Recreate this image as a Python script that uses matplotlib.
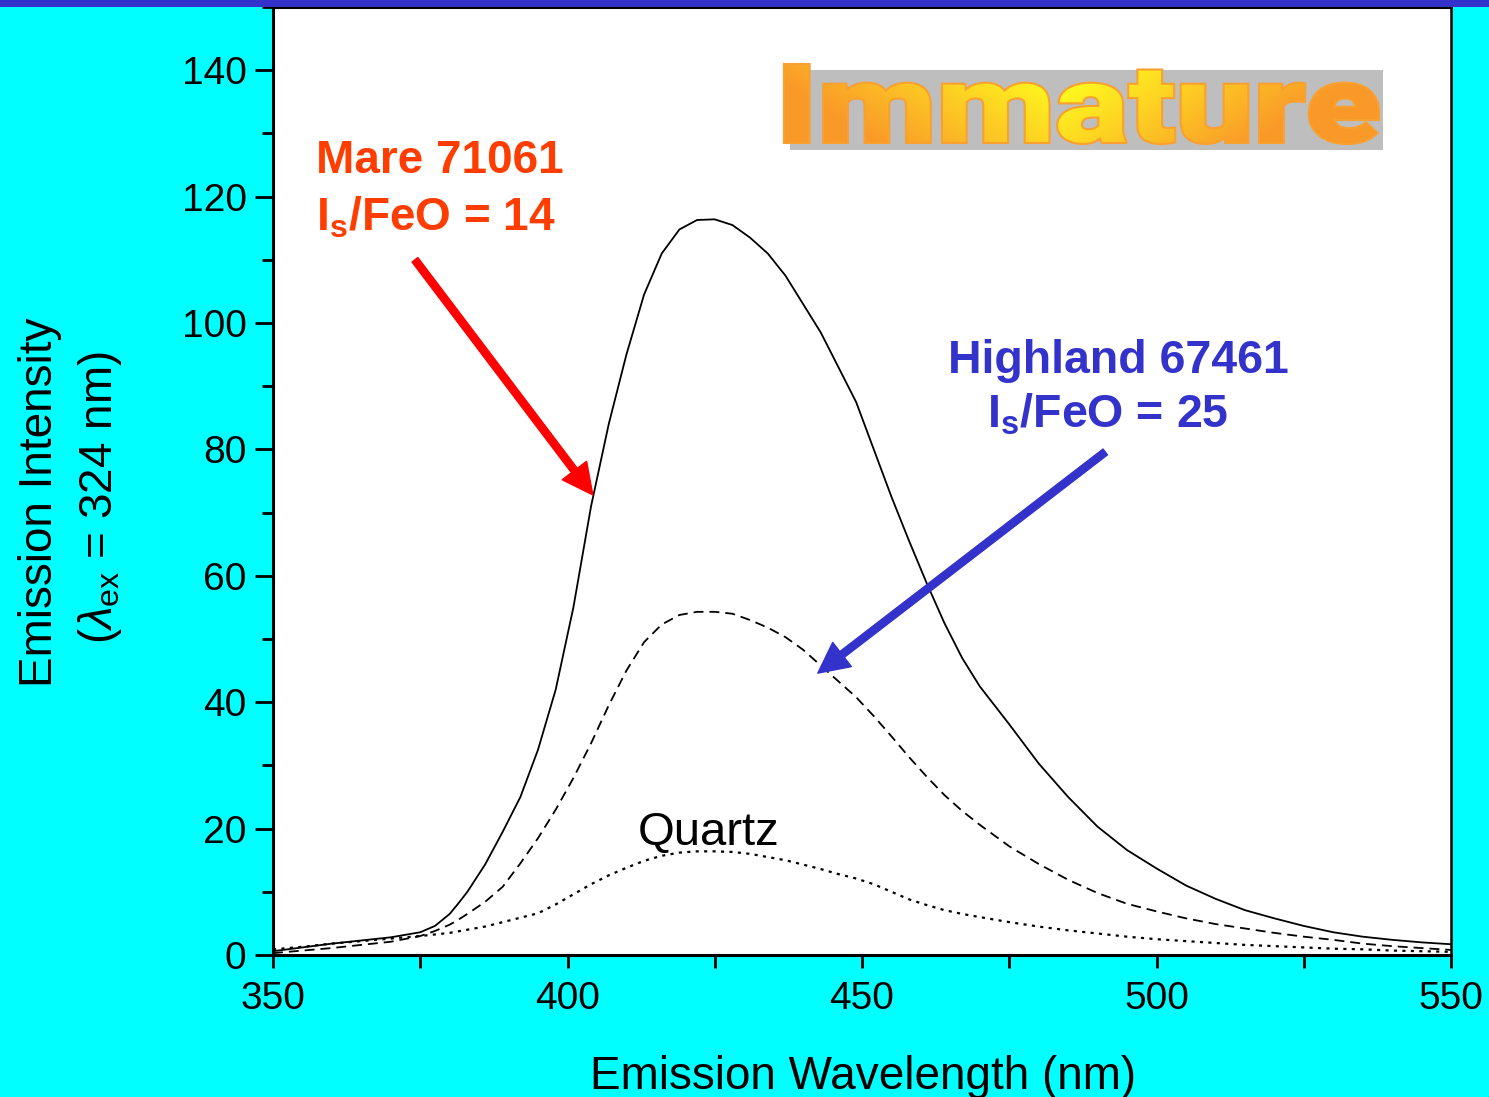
import matplotlib
matplotlib.use("Agg")
import matplotlib.pyplot as plt
import numpy as np
from matplotlib.textpath import TextPath
from matplotlib.font_manager import FontProperties
from matplotlib.patches import PathPatch, Rectangle
from matplotlib.transforms import Affine2D
from matplotlib.ticker import MultipleLocator

plt.rcParams['font.family'] = ['Liberation Sans', 'DejaVu Sans']
plt.rcParams['mathtext.fontset'] = 'custom'
plt.rcParams['mathtext.rm'] = 'Liberation Sans'
plt.rcParams['mathtext.it'] = 'Liberation Sans:italic'
plt.rcParams['mathtext.bf'] = 'Liberation Sans:bold'

# emission spectra (excitation 324 nm)
wavelength = [350, 355, 360, 365, 370, 375, 377.5, 380, 381.5, 383, 386, 389,
              392, 395, 398, 401, 404, 407, 410, 413, 416, 419, 422, 425, 428,
              431, 434, 437, 440, 443, 446, 449, 452, 455, 458, 461, 464, 467,
              470, 475, 480, 485, 490, 495, 500, 505, 510, 515, 520, 525, 530,
              535, 540, 545, 550]
mare_71061 = [0.6, 1.2, 1.8, 2.3, 2.8, 3.6, 4.6, 6.5, 8.2, 10.0, 14.3, 19.5,
              25.0, 32.5, 42.0, 55.0, 71.0, 84.0, 95.0, 104.5, 111.0, 114.8,
              116.3, 116.4, 115.5, 113.5, 111.0, 107.5, 103.0, 98.5, 93.0, 87.5,
              80.0, 72.5, 65.5, 58.8, 52.5, 47.0, 42.5, 36.5, 30.3, 25.0, 20.3,
              16.6, 13.7, 11.0, 8.9, 7.1, 5.8, 4.6, 3.6, 2.9, 2.4, 2.0, 1.7]
highland_67461 = [0.3, 0.7, 1.1, 1.6, 2.1, 3.0, 3.8, 4.8, 5.6, 6.5, 8.4, 10.8,
                  14.5, 18.5, 23.0, 28.0, 33.5, 39.5, 45.0, 49.5, 52.3, 53.8,
                  54.3, 54.3, 54.0, 53.0, 51.8, 50.3, 48.3, 45.8, 43.3, 40.8,
                  37.8, 34.6, 31.3, 28.2, 25.3, 22.8, 20.6, 17.2, 14.4, 11.9,
                  9.8, 8.1, 6.9, 5.8, 4.9, 4.2, 3.5, 2.9, 2.4, 1.8, 1.4, 1.1,
                  0.8]
quartz = [0.9, 1.3, 1.8, 2.2, 2.6, 3.0, 3.25, 3.5, 3.75, 4.0, 4.5, 5.2, 5.9,
          6.6, 8.0, 9.6, 11.2, 12.6, 13.8, 14.9, 15.7, 16.2, 16.4, 16.4, 16.3,
          16.0, 15.5, 15.0, 14.3, 13.6, 12.8, 12.1, 11.2, 10.0, 8.8, 7.9, 7.1,
          6.5, 6.0, 5.2, 4.5, 3.9, 3.4, 2.9, 2.5, 2.2, 1.9, 1.6, 1.4, 1.2, 1.0,
          0.9, 0.7, 0.6, 0.5]

W, H = 1489, 1097
fig = plt.figure(figsize=(W / 100, H / 100), dpi=100, facecolor='#00FFFF')


def fx(px):
    return px / W


def fy(py):
    return 1 - py / H


ax = fig.add_axes([fx(273), fy(955), fx(1451) - fx(273), fy(7) - fy(955)])
ax.plot(wavelength, mare_71061, color='black', lw=1.3, ls='-')
ax.plot(wavelength, highland_67461, color='black', lw=1.3, ls=(0, (5.5, 3.3)))
ax.plot(wavelength, quartz, color='black', lw=1.6, ls=(0, (1.4, 2.4)))

ax.set_xlim(350, 550)
ax.set_ylim(0, 150)
ax.xaxis.set_major_locator(MultipleLocator(50))
ax.xaxis.set_minor_locator(MultipleLocator(25))
ax.yaxis.set_major_locator(MultipleLocator(20))
ax.yaxis.set_minor_locator(MultipleLocator(10))
ax.tick_params(which='both', direction='out', width=2, labelsize=28)
ax.tick_params(axis='y', which='major', length=13, pad=6)
ax.tick_params(axis='y', which='minor', length=8)
ax.tick_params(axis='x', which='both', length=9, pad=10)
for side in ['left', 'bottom', 'top']:
    ax.spines[side].set_linewidth(2.2)
ax.spines['right'].set_linewidth(1.8)

# labels
fig.text(fx(863), fy(1089), 'Emission Wavelength (nm)', fontsize=33,
         ha='center', va='baseline')
fig.text(fx(40), fy(502), 'Emission Intensity', fontsize=33, rotation=90,
         ha='center', va='center')
fig.text(fx(100), fy(498), r'($\lambda_{\rm ex}$ = 324 nm)', fontsize=33,
         rotation=90, ha='center', va='center')

# annotations
ax.text(357.3, 123.7, 'Mare 71061', color='#FF3D00', fontsize=33,
        fontweight='bold', ha='left', va='baseline')
ax.text(357.3, 114.6, r'$\mathbf{I_s}$/FeO = 14', color='#FF3D00',
        fontsize=33, fontweight='bold', ha='left', va='baseline')
ax.text(493.6, 92.1, 'Highland 67461', color='#3333CC', fontsize=33.5,
        fontweight='bold', ha='center', va='baseline')
ax.text(491.8, 83.4, r'$\mathbf{I_s}$/FeO = 25', color='#3333CC',
        fontsize=33.5, fontweight='bold', ha='center', va='baseline')
ax.text(424.0, 17.4, 'Quartz', color='black', fontsize=34,
        ha='center', va='baseline')

arrow = 'simple,head_length=1.0,head_width=1.0,tail_width=0.24'
ax.annotate('', xy=(404.3, 72.8), xytext=(374.1, 110.0),
            arrowprops=dict(arrowstyle=arrow, color='#FF0000',
                            mutation_scale=22, shrinkA=0, shrinkB=0))
ax.annotate('', xy=(442.5, 44.6), xytext=(491.3, 79.6),
            arrowprops=dict(arrowstyle=arrow, color='#3333CC',
                            mutation_scale=22, shrinkA=0, shrinkB=0))

# "Immature" logo
lx0, lx1, ly0, ly1 = 770, 1400, 55, 160
ax_logo = fig.add_axes([fx(lx0), fy(ly1), fx(lx1) - fx(lx0), fy(ly0) - fy(ly1)])
ax_logo.set_xlim(lx0, lx1)
ax_logo.set_ylim(ly1, ly0)
ax_logo.axis('off')
ax_logo.add_patch(Rectangle((790, 70), 593, 80, color='#BEBEBE', lw=0))

tp = TextPath((0, 0), 'Immature', size=100,
              prop=FontProperties(family=['Roboto', 'DejaVu Sans'], weight=900))
ext = tp.get_extents()
bx0, bx1, by0, by1 = 785, 1378, 65, 143
tr = (Affine2D().translate(-ext.x0, -ext.y0)
      .scale((bx1 - bx0) / ext.width, -(by1 - by0) / ext.height)
      .translate(bx0, by1))
logo_path = tr.transform_path(tp)
# thick orange stroke under the gradient makes the letters heavier
ax_logo.add_patch(PathPatch(logo_path, facecolor='#F8A030',
                            edgecolor='#F8A030', lw=3, zorder=1.5))
patch = PathPatch(logo_path, facecolor='none', edgecolor='none', zorder=3)
ax_logo.add_patch(patch)

u = np.linspace(0, 1, 300)[None, :]
v = np.linspace(0, 1, 60)[:, None]
t = np.clip(np.abs(u - 0.47) / 0.45 + 0.45 * (v - 0.35), 0, 1)
yellow = np.array([1.0, 0.97, 0.12])
orange = np.array([0.98, 0.60, 0.16])
grad = yellow[None, None, :] * (1 - t[..., None]) + orange[None, None, :] * t[..., None]
im = ax_logo.imshow(grad, extent=(bx0, bx1, by1, by0), origin='upper',
                    aspect='auto', zorder=2, interpolation='bilinear')
im.set_clip_path(patch)

# blue title bar at the top of the slide
fig.add_artist(Rectangle((0, fy(7)), 1, 1 - fy(7), transform=fig.transFigure,
                         color='#3333CC', lw=0, zorder=10))

fig.savefig('out.png', dpi=100, facecolor=fig.get_facecolor())
